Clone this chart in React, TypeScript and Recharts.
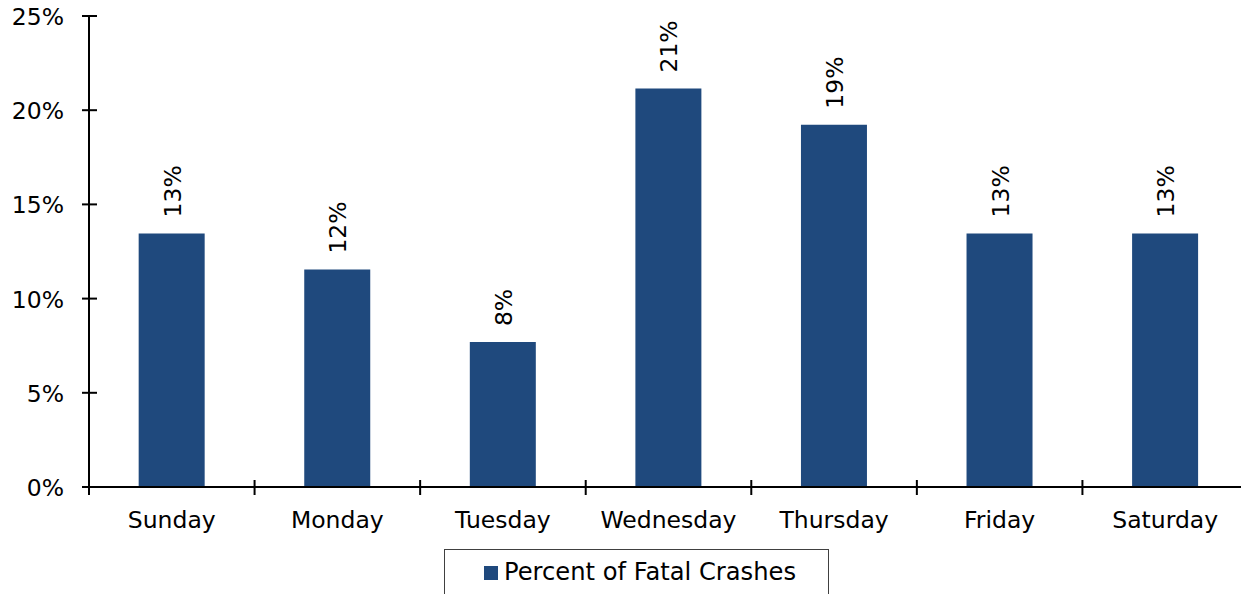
import React from 'react';
import { BarChart, Bar, XAxis, YAxis, Legend, LabelList } from 'recharts';

const days = ['Sunday', 'Monday', 'Tuesday', 'Wednesday', 'Thursday', 'Friday', 'Saturday'];
const percentFatal = [13.46, 11.54, 7.69, 21.15, 19.23, 13.46, 13.46];
const yTicks = [0, 5, 10, 15, 20, 25];
const seriesName = 'Percent of Fatal Crashes';

const data = days.map((day, i) => ({ day, value: percentFatal[i] }));

const W = 1241;
const H = 594;
const MARGIN = { top: 16, right: 1, left: 0, bottom: 22 };
const Y_AXIS_W = 81;
const X_AXIS_H = 40;
const FONT = '"DejaVu Sans", Verdana, sans-serif';
const FS = 23.5;
const BAR_COLOR = '#1F497D';
const BAND = (W - MARGIN.left - MARGIN.right - Y_AXIS_W) / days.length;

const YTick = (props: any) => {
  const { x, y, payload } = props;
  return (
    <g>
      <line x1={x - 7} x2={x + 8} y1={y} y2={y} stroke="#000" strokeWidth={2} />
      <text x={x - 25} y={y + 9} textAnchor="end" fontFamily={FONT} fontSize={FS} fill="#000">
        {payload.value}%
      </text>
    </g>
  );
};

const XTick = (props: any) => {
  const { x, y, payload, index } = props;
  const left = x - BAND / 2;
  const right = x + BAND / 2;
  return (
    <g>
      <line x1={left} x2={left} y1={y - 7} y2={y + 8} stroke="#000" strokeWidth={2} />
      {index === days.length - 1 && (
        <line x1={right} x2={right} y1={y - 7} y2={y + 8} stroke="#000" strokeWidth={2} />
      )}
      <text x={x} y={y + 41} textAnchor="middle" fontFamily={FONT} fontSize={FS} fill="#000">
        {payload.value}
      </text>
    </g>
  );
};

const BarLabel = (props: any) => {
  const { x, y, width, value } = props;
  const px = x + width / 2 + 9;
  const py = y - 16;
  return (
    <text
      x={px}
      y={py}
      transform={`rotate(-90, ${px}, ${py})`}
      textAnchor="start"
      fontFamily={FONT}
      fontSize={FS}
      fill="#000"
    >
      {Math.round(value)}%
    </text>
  );
};

const LegendBox = () => (
  <svg width={383} height={44} style={{ display: 'block' }}>
    <rect x={39} y={16} width={14} height={14} fill={BAR_COLOR} />
    <text x={59} y={30} fontFamily={FONT} fontSize={24.2} fill="#000">
      {seriesName}
    </text>
  </svg>
);

export default function App() {
  return (
    <div style={{ marginTop: -8, width: W, height: H }}>
      <BarChart width={W} height={H} data={data} margin={MARGIN} barCategoryGap="30%">
        <XAxis
          dataKey="day"
          height={X_AXIS_H}
          axisLine={{ stroke: '#000', strokeWidth: 2 }}
          tickLine={false}
          tickSize={0}
          tickMargin={0}
          interval={0}
          tick={<XTick />}
        />
        <YAxis
          width={Y_AXIS_W}
          domain={[0, 25]}
          ticks={yTicks}
          axisLine={{ stroke: '#000', strokeWidth: 2 }}
          tickLine={false}
          tickSize={0}
          tickMargin={0}
          interval={0}
          tick={<YTick />}
        />
        <Legend
          verticalAlign="bottom"
          content={<LegendBox />}
          wrapperStyle={{
            position: 'absolute',
            left: 436,
            top: 549,
            width: 385,
            height: 45,
            bottom: 'auto',
            border: '1px solid #404040',
            borderBottom: 'none',
            boxSizing: 'border-box',
            background: '#fff',
          }}
        />
        <Bar dataKey="value" name={seriesName} fill={BAR_COLOR} isAnimationActive={false}>
          <LabelList dataKey="value" content={<BarLabel />} />
        </Bar>
      </BarChart>
    </div>
  );
}
